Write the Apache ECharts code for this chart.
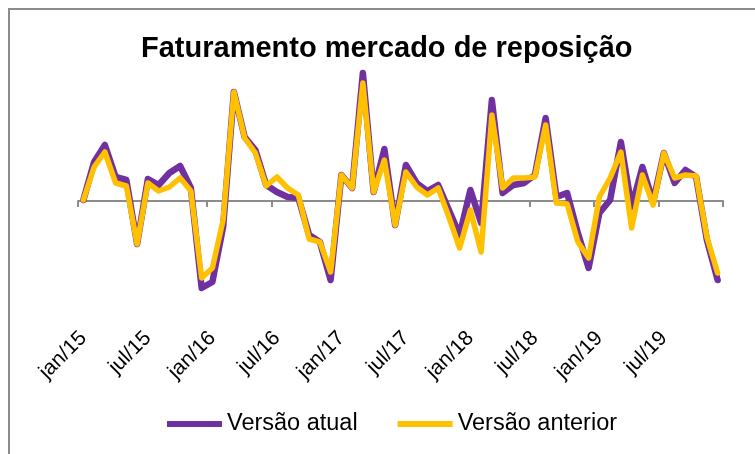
<!DOCTYPE html>
<html>
<head>
<meta charset="utf-8">
<script src="https://cdn.jsdelivr.net/npm/echarts@6/dist/echarts.min.js"></script>
<style>
  html, body { margin: 0; padding: 0; background: #fff; }
  #chart { width: 755px; height: 454px; }
</style>
</head>
<body>
<div id="chart"></div>
<script>
  // meses jan/15 .. dez/19
  var meses = ['jan', 'fev', 'mar', 'abr', 'mai', 'jun', 'jul', 'ago', 'set', 'out', 'nov', 'dez'];
  var anos = ['15', '16', '17', '18', '19'];
  var categorias = [];
  anos.forEach(function (a) {
    meses.forEach(function (m) { categorias.push(m + '/' + a); });
  });

  // valores (escala sem rótulos)
  var versaoAtual = [
    0.1, 3.9, 5.6, 2.4, 2.1, -4.3, 2.2, 1.6, 2.8, 3.5, 1.3, -8.7,
    -8.1, -2.6, 10.9, 6.4, 5.1, 1.6, 0.9, 0.4, 0.3, -3.4, -4.1, -7.9,
    2.6, 1.3, 12.8, 0.9, 5.2, -2.4, 3.6, 1.8, 1.0, 1.6, -0.9, -3.4,
    1.1, -2.2, 10.1, 0.8, 1.6, 1.8, 2.6, 8.3, 0.4, 0.8, -3.2, -6.7,
    -1.2, 0.1, 5.9, -0.6, 3.4, -0.1, 4.8, 1.8, 3.1, 2.4, -3.9, -7.9
  ];
  var versaoAnterior = [
    0.1, 3.4, 4.9, 1.8, 1.5, -4.3, 1.8, 1.0, 1.4, 2.3, 1.0, -7.7,
    -6.7, -1.9, 10.9, 6.3, 4.8, 1.5, 2.4, 1.3, 0.6, -3.8, -4.1, -7.1,
    2.6, 1.3, 11.8, 0.9, 4.1, -2.4, 2.9, 1.4, 0.6, 1.3, -1.6, -4.7,
    -0.9, -5.1, 8.6, 1.3, 2.3, 2.3, 2.4, 7.6, -0.2, -0.3, -4.1, -5.7,
    0.4, 2.3, 4.9, -2.7, 2.6, -0.4, 4.8, 2.3, 2.6, 2.5, -3.6, -7.2
  ];

  var chart = echarts.init(document.getElementById('chart'));
  var cinza = '#8c8c8c';

  chart.setOption({
    animation: false,
    title: {
      text: 'Faturamento mercado de reposição',
      left: 136,
      top: 29,
      textStyle: { fontFamily: 'Liberation Sans', fontSize: 29, fontWeight: 'bold', color: '#000' }
    },
    legend: {
      bottom: 13,
      left: 162,
      itemWidth: 55,
      itemHeight: 6,
      itemGap: 40,
      icon: 'rect',
      textStyle: { fontFamily: 'Liberation Sans', fontSize: 23.5, color: '#000' },
      data: ['Versão atual', 'Versão anterior']
    },
    graphic: [{
      type: 'rect',
      shape: { x: 9, y: 9, width: 800, height: 500 },
      style: { fill: 'none', stroke: cinza, lineWidth: 2 },
      silent: true
    }],
    grid: { left: 78, right: 32, top: 61, height: 270 },
    xAxis: [{
      type: 'category',
      data: categorias,
      boundaryGap: true,
      axisLine: { onZero: true, lineStyle: { color: cinza, width: 2 } },
      axisTick: { show: true, interval: 5, length: 6, lineStyle: { color: cinza, width: 2 } },
      axisLabel: { show: true, interval: 5, formatter: function () { return ''; } }
    }, {
      type: 'category',
      data: categorias,
      position: 'bottom',
      boundaryGap: true,
      axisLine: { show: false, onZero: false },
      axisTick: { show: false },
      axisLabel: {
        interval: 5,
        rotate: 45,
        margin: 4,
        fontFamily: 'Liberation Sans',
        fontSize: 21,
        color: '#000'
      }
    }],
    yAxis: {
      type: 'value',
      min: -13,
      max: 14,
      axisLine: { show: false },
      axisTick: { show: false },
      axisLabel: { show: false },
      splitLine: { show: false }
    },
    series: [{
      name: 'Versão atual',
      type: 'line',
      data: versaoAtual,
      symbol: 'none',
      color: '#7030A0',
      lineStyle: { width: 6.5, join: 'round', cap: 'round' }
    }, {
      name: 'Versão anterior',
      type: 'line',
      data: versaoAnterior,
      symbol: 'none',
      color: '#FFC000',
      lineStyle: { width: 5.5, join: 'round', cap: 'round' }
    }]
  });
</script>
</body>
</html>
